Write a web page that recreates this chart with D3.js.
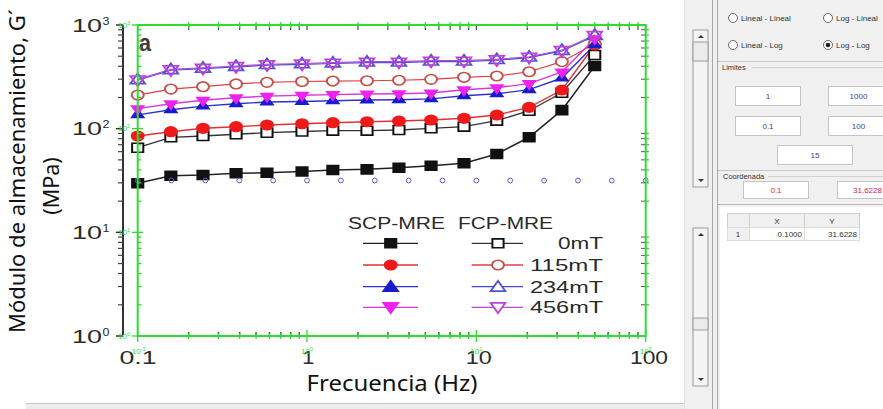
<!DOCTYPE html>
<html><head><meta charset="utf-8">
<script src="https://cdn.jsdelivr.net/npm/d3@7"></script>
<style>body{margin:0;background:#fff;overflow:hidden}svg{display:block}</style>
</head><body>
<svg id="c" width="883" height="409"></svg>
<script>
// ---------- data ----------
const freq   = [0.1, 0.157, 0.243, 0.381, 0.58, 0.934, 1.42, 2.26, 3.49, 5.4, 8.45, 13.2, 20.5, 32, 50];
const scp0   = [29.7, 35.2, 35.7, 37.1, 37.6, 38.6, 39.9, 40.5, 42.0, 43.9, 46.3, 57.0, 82.6, 151, 402];
const fcp0   = [65.5, 82.6, 85.0, 88.3, 91.4, 93.9, 95.6, 95.6, 97.1, 100.8, 104.5, 119.4, 149, 222, 514];
const scp115 = [85.0, 93.5, 100.8, 104.5, 108.4, 111.6, 114.2, 116.7, 118.6, 121.3, 125.9, 135.5, 160.7, 236, 641];
const fcp115 = [211, 241, 254, 270, 280, 285, 288, 290, 293, 299, 313, 322, 354, 443, 660];
const scp234 = [136, 152, 165, 174, 181, 183, 186, 189, 190, 194, 208, 217, 238, 308, 645];
const scp456 = [156, 174, 188, 199, 206, 210, 213, 216, 217, 221, 237, 248, 272, 352, 738];
const fcp234 = [293, 366, 379, 394, 410, 417, 425, 434, 434, 444, 444, 458, 484, 562, 784];
const fcp456 = [299, 374, 387, 402, 418, 425, 433, 443, 443, 453, 453, 467, 494, 574, 800];
const digitFreq = [0.1, 0.158, 0.251, 0.398, 0.631, 1, 1.585, 2.512, 3.981, 6.31, 10, 15.85, 25.12, 39.81, 63.1, 100];
const digitVal  = [31.6228, 31.6228, 31.6228, 31.6228, 31.6228, 31.6228, 31.6228, 31.6228, 31.6228, 31.6228, 31.6228, 31.6228, 31.6228, 31.6228, 31.6228, 31.6228];
const fieldLabels = ["0mT", "115mT", "234mT", "456mT"];
const groupLabels = ["SCP-MRE", "FCP-MRE"];
const xTickValues = [0.1, 1, 10, 100];
const xTickLabels = ["0.1", "1", "10", "100"];
const yTickValues = [1, 10, 100, 1000];
const yTickExps   = ["0", "1", "2", "3"];
const xTitle = "Frecuencia (Hz)";
const yTitle1 = "Módulo de almacenamiento, G´";
const yTitle2 = "(MPa)";
const panelLabel = "a";

// ---------- scales ----------
const svg = d3.select("#c");
const x = d3.scaleLog().domain([0.1, 100]).range([137.7, 645.7]);
const y = d3.scaleLog().domain([1, 1000]).range([336, 25]);
const xLab = d3.scaleLog().domain([0.1, 100]).range([138, 649]);

const minorX = [], minorY = [];
[0.1, 1, 10].forEach(d => { for (let k = 2; k <= 9; k++) minorX.push(d * k); });
[1, 10, 100].forEach(d => { for (let k = 2; k <= 9; k++) minorY.push(d * k); });

const green = "#2fdc2f";
const ink = "#2a2a2a";

// ---------- original figure frame (black) ----------
const orig = svg.append("g");
orig.append("line").attr("x1", 123).attr("x2", 123).attr("y1", 25).attr("y2", 335)
  .attr("stroke", "#333").attr("stroke-width", 2);
orig.selectAll(".bly").data(minorY).join("line")
  .attr("x1", 118).attr("x2", 123).attr("y1", d => y(d)).attr("y2", d => y(d))
  .attr("stroke", "#444").attr("stroke-width", 1.2);
orig.selectAll(".blyM").data(yTickValues).join("line")
  .attr("x1", 116).attr("x2", 123).attr("y1", d => y(d)).attr("y2", d => y(d))
  .attr("stroke", "#333").attr("stroke-width", 1.5);
orig.selectAll(".btt").data(minorX.concat(xTickValues)).join("line")
  .attr("x1", d => x(d)).attr("x2", d => x(d)).attr("y1", 26).attr("y2", 30)
  .attr("stroke", "#444").attr("stroke-width", 1.2);
orig.selectAll(".btb").data(minorX).join("line")
  .attr("x1", d => x(d)).attr("x2", d => x(d)).attr("y1", 332).attr("y2", 336)
  .attr("stroke", "#444").attr("stroke-width", 1.5);
orig.selectAll(".btr").data(minorY).join("line")
  .attr("x1", 641).attr("x2", 645).attr("y1", d => y(d)).attr("y2", d => y(d))
  .attr("stroke", "#555").attr("stroke-width", 1);

const yl = orig.selectAll(".ylab").data(yTickValues).join("g");
yl.append("text").attr("x", 72).attr("y", d => y(d) + 6.5)
  .attr("font-family", "Liberation Sans, Arial, sans-serif").attr("font-size", 18)
  .attr("textLength", 30).attr("lengthAdjust", "spacingAndGlyphs")
  .attr("fill", ink).text("10");
yl.append("text").attr("x", 102.5).attr("y", d => y(d) - 0.5)
  .attr("font-family", "Liberation Sans, Arial, sans-serif").attr("font-size", 11)
  .attr("textLength", 7).attr("lengthAdjust", "spacingAndGlyphs")
  .attr("fill", ink).text((d, i) => yTickExps[i]);

orig.selectAll(".xlab").data(xTickValues).join("text")
  .attr("x", d => xLab(d)).attr("y", 363.5).attr("text-anchor", "middle")
  .attr("font-family", "Liberation Sans, Arial, sans-serif").attr("font-size", 18)
  .attr("textLength", (d, i) => [37, 12, 26, 38][i]).attr("lengthAdjust", "spacingAndGlyphs")
  .attr("fill", ink).text((d, i) => xTickLabels[i]);

svg.append("text").attr("x", 139).attr("y", 51)
  .attr("font-family", "Liberation Sans, Arial, sans-serif").attr("font-size", 23).attr("font-weight", "bold")
  .attr("textLength", 12).attr("lengthAdjust", "spacingAndGlyphs")
  .attr("fill", "#3a3a3a").text(panelLabel);

// ---------- series ----------
const series = [
  {v: scp0,   c: "#111111", line: "#222", sym: d3.symbolSquare,   size: 80, fill: "#111111", rot: 0, lw: 1.5},
  {v: fcp0,   c: "#111111", line: "#333", sym: d3.symbolSquare,   size: 80, fill: "#ffffff", rot: 0, lw: 1.3},
  {v: scp115, c: "#ee1a1a", line: "#e53030", sym: d3.symbolCircle, size: 72, fill: "#ee1a1a", rot: 0, lw: 1.4},
  {v: fcp115, c: "#c8504a", line: "#e04040", sym: d3.symbolCircle, size: 72, fill: "#ffffff", rot: 0, lw: 1.2},
  {v: scp234, c: "#1a1ad0", line: "#3030d0", sym: d3.symbolTriangle, size: 38, fill: "#1a1ad0", rot: 0, lw: 1.4},
  {v: fcp234, c: "#5050d8", line: "#4848d0", sym: d3.symbolTriangle, size: 60, fill: "none", rot: 0, lw: 1.2},
  {v: scp456, c: "#ee22ee", line: "#d838d8", sym: d3.symbolTriangle, size: 38, fill: "#ee22ee", rot: 180, lw: 1.4},
  {v: fcp456, c: "#c040d8", line: "#b848d8", sym: d3.symbolTriangle, size: 60, fill: "none", rot: 180, lw: 1.2}
];
const lineGen = d3.line().x((d, i) => x(freq[i])).y(d => y(d));
const plot = svg.append("g");
series.forEach(s => {
  plot.append("path").attr("d", lineGen(s.v)).attr("fill", "none")
    .attr("stroke", s.line).attr("stroke-width", s.lw);
});
series.forEach(s => {
  plot.append("g").selectAll("path").data(s.v).join("path")
    .attr("d", d3.symbol(s.sym, s.size)())
    .attr("transform", (d, i) => `translate(${x(freq[i])},${y(d)}) scale(1.25,1) rotate(${s.rot})`)
    .attr("fill", s.fill).attr("stroke", s.c).attr("stroke-width", 1.6);
});

svg.append("g").selectAll("circle").data(digitVal).join("circle")
  .attr("cx", (d, i) => x(digitFreq[i])).attr("cy", d => y(d)).attr("r", 2.4)
  .attr("fill", "none").attr("stroke", "#5a5ae0").attr("stroke-width", 1);

// ---------- legend ----------
const leg = svg.append("g").attr("font-family", "Liberation Sans, Arial, sans-serif").attr("fill", ink);
leg.append("text").attr("x", 348).attr("y", 228.5).attr("font-size", 16)
  .attr("textLength", 97).attr("lengthAdjust", "spacingAndGlyphs").attr("fill", ink).text(groupLabels[0]);
leg.append("text").attr("x", 458).attr("y", 228.5).attr("font-size", 16)
  .attr("textLength", 95).attr("lengthAdjust", "spacingAndGlyphs").attr("fill", ink).text(groupLabels[1]);
const rowY = [243.3, 265, 286.7, 307.3];
fieldLabels.forEach((lab, r) => {
  [0, 1].forEach(k => {
    const s = series[r * 2 + k];
    const x1 = k ? 471.7 : 363, x2 = k ? 523 : 418, mx = k ? 498 : 390.7;
    const sz = s.sym === d3.symbolTriangle ? 60 : s.size;
    const off = s.sym === d3.symbolTriangle ? (s.rot ? -1 : 1) : 0;
    leg.append("line").attr("x1", x1).attr("x2", x2).attr("y1", rowY[r]).attr("y2", rowY[r])
      .attr("stroke", s.line).attr("stroke-width", 1.3);
    leg.append("path").attr("d", d3.symbol(s.sym, sz)())
      .attr("transform", `translate(${mx},${rowY[r] + off}) scale(1.25,1) rotate(${s.rot})`)
      .attr("fill", s.fill === "none" ? "#ffffff" : s.fill).attr("stroke", s.c).attr("stroke-width", 1.6);
  });
  leg.append("text").attr("x", 603).attr("y", rowY[r] + 5.8).attr("font-size", 16)
    .attr("text-anchor", "end").attr("fill", ink).text(lab)
    .attr("textLength", lab.length === 3 ? 45 : 73).attr("lengthAdjust", "spacingAndGlyphs");
});

// ---------- digitizer green overlay ----------
const g2 = svg.append("g");
g2.append("rect").attr("x", 137.7).attr("y", 25).attr("width", 508).attr("height", 311)
  .attr("fill", "none").attr("stroke", green).attr("stroke-width", 2);
g2.selectAll(".gly").data(minorY).join("line")
  .attr("x1", 137.7).attr("x2", 141.5).attr("y1", d => y(d)).attr("y2", d => y(d))
  .attr("stroke", green).attr("stroke-width", 1.3);
g2.selectAll(".glyM").data(yTickValues).join("line")
  .attr("x1", 132).attr("x2", 143).attr("y1", d => y(d)).attr("y2", d => y(d))
  .attr("stroke", green).attr("stroke-width", 1.3);
g2.selectAll(".gry").data(minorY).join("line")
  .attr("x1", 645.7).attr("x2", 649).attr("y1", d => y(d)).attr("y2", d => y(d))
  .attr("stroke", green).attr("stroke-width", 1.3);
g2.selectAll(".gbx").data(minorX).join("line")
  .attr("x1", d => x(d)).attr("x2", d => x(d)).attr("y1", 333).attr("y2", 339)
  .attr("stroke", green).attr("stroke-width", 1.3);
g2.selectAll(".gbxM").data(xTickValues).join("line")
  .attr("x1", d => x(d)).attr("x2", d => x(d)).attr("y1", 330).attr("y2", 342)
  .attr("stroke", green).attr("stroke-width", 1.3);
g2.selectAll(".gtx").data(minorX).join("line")
  .attr("x1", d => x(d)).attr("x2", d => x(d)).attr("y1", 22).attr("y2", 28)
  .attr("stroke", green).attr("stroke-width", 1.3);
const gyl = g2.selectAll(".gyl").data(yTickValues).join("text")
  .attr("x", 118).attr("y", d => y(d) + 2.5)
  .attr("font-family", "Liberation Sans, Arial, sans-serif").attr("font-size", 8).attr("fill", green);
gyl.append("tspan").text("10");
gyl.append("tspan").attr("dy", -3).attr("font-size", 5.5).text((d, i) => yTickExps[i]);
const gxl = g2.selectAll(".gxl").data(xTickValues).join("text")
  .attr("x", d => x(d) - 6).attr("y", 354)
  .attr("font-family", "Liberation Sans, Arial, sans-serif").attr("font-size", 8).attr("fill", green);
gxl.append("tspan").text("10");
gxl.append("tspan").attr("dy", -3).attr("font-size", 5.5).text((d, i) => ["-1", "0", "1", "2"][i]);

// ---------- axis titles ----------
svg.append("text").attr("x", xLab(3.1)).attr("y", 391).attr("text-anchor", "middle")
  .attr("font-family", "Noto Sans, Open Sans, sans-serif").attr("font-size", 21.5)
  .attr("textLength", 171).attr("lengthAdjust", "spacingAndGlyphs")
  .attr("fill", "#111").text(xTitle);
svg.append("text").attr("transform", "translate(25,171) rotate(-90)").attr("text-anchor", "middle")
  .attr("font-family", "Noto Sans, Open Sans, sans-serif").attr("font-size", 21.5)
  .attr("textLength", 324).attr("lengthAdjust", "spacingAndGlyphs")
  .attr("fill", "#111").text(yTitle1);
svg.append("text").attr("transform", "translate(59,186) rotate(-90)").attr("text-anchor", "middle")
  .attr("font-family", "Noto Sans, Open Sans, sans-serif").attr("font-size", 21.5)
  .attr("fill", "#111").text(yTitle2);

svg.append("rect").attr("x", 26).attr("y", 403).attr("width", 660).attr("height", 6).attr("fill", "#ececec");
svg.append("line").attr("x1", 26).attr("x2", 686).attr("y1", 403.5).attr("y2", 403.5).attr("stroke", "#c8c8c8");

// ---------- right UI panel ----------
const ui = svg.append("g").attr("font-family", "Liberation Sans, Arial, sans-serif").attr("font-size", 8);
ui.append("rect").attr("x", 684).attr("y", 0).attr("width", 199).attr("height", 409).attr("fill", "#f0f0f0");
ui.append("line").attr("x1", 684.5).attr("x2", 684.5).attr("y1", 0).attr("y2", 409).attr("stroke", "#e0e0e0");
function scrollbar(y0, y1, t0, t1) {
  ui.append("rect").attr("x", 693).attr("y", y0).attr("width", 15).attr("height", y1 - y0)
    .attr("fill", "#f4f4f4").attr("stroke", "#9a9a9a").attr("stroke-width", 1);
  ui.append("rect").attr("x", 693).attr("y", t0).attr("width", 15).attr("height", t1 - t0)
    .attr("fill", "#ebebeb").attr("stroke", "#9a9a9a").attr("stroke-width", 1);
  ui.append("path").attr("d", `M698,${y0 + 8}L701,${y0 + 5}L704,${y0 + 8}Z`).attr("fill", "#333");
  ui.append("path").attr("d", `M698,${y1 - 8}L701,${y1 - 5}L704,${y1 - 8}Z`).attr("fill", "#333");
}
scrollbar(30, 187, 42, 61);
scrollbar(228, 386, 318, 330);
ui.append("line").attr("x1", 712.5).attr("x2", 712.5).attr("y1", 0).attr("y2", 409).attr("stroke", "#a8a8a8");
ui.append("line").attr("x1", 717.5).attr("x2", 717.5).attr("y1", 0).attr("y2", 409).attr("stroke", "#a8a8a8");

const radios = [
  {t: "Lineal - Lineal", x: 733, y: 18, on: false},
  {t: "Log - Lineal", x: 828, y: 18, on: false},
  {t: "Lineal - Log", x: 733, y: 45, on: false},
  {t: "Log - Log", x: 828, y: 45, on: true}
];
radios.forEach(r => {
  ui.append("circle").attr("cx", r.x).attr("cy", r.y).attr("r", 4.5).attr("fill", "#fff").attr("stroke", "#666");
  if (r.on) ui.append("circle").attr("cx", r.x).attr("cy", r.y).attr("r", 2.3).attr("fill", "#222");
  ui.append("text").attr("x", r.x + 8).attr("y", r.y + 3).attr("fill", "#333").text(r.t);
});
ui.append("line").attr("x1", 718).attr("x2", 883).attr("y1", 61.5).attr("y2", 61.5).attr("stroke", "#c8c8c8");
ui.append("text").attr("x", 722).attr("y", 70).attr("fill", "#333").attr("font-size", 7.5).text("Limites");
ui.append("line").attr("x1", 752).attr("x2", 883).attr("y1", 67.5).attr("y2", 67.5).attr("stroke", "#d0d0d0");
function box(x0, y0, w, h, t, col) {
  ui.append("rect").attr("x", x0).attr("y", y0).attr("width", w).attr("height", h)
    .attr("fill", "#fff").attr("stroke", "#c4c4c4");
  ui.append("text").attr("x", x0 + w / 2).attr("y", y0 + h / 2 + 3).attr("text-anchor", "middle")
    .attr("fill", col).text(t);
}
box(735.5, 86.5, 65, 19, "1", "#3c3ca0");
box(828.5, 86.5, 60, 19, "1000", "#3c3ca0");
box(735.5, 116.5, 65, 19, "0.1", "#3c3ca0");
box(828.5, 116.5, 60, 19, "100", "#3c3ca0");
box(777.5, 145.5, 75, 19, "15", "#3c3ca0");
ui.append("line").attr("x1", 718).attr("x2", 883).attr("y1", 170.5).attr("y2", 170.5).attr("stroke", "#c8c8c8");
ui.append("text").attr("x", 723).attr("y", 179).attr("fill", "#333").attr("font-size", 7.5).text("Coordenada");
ui.append("line").attr("x1", 768).attr("x2", 883).attr("y1", 176.5).attr("y2", 176.5).attr("stroke", "#d0d0d0");
box(743.5, 181.5, 65, 17, "0.1", "#e0203a");
box(837.5, 181.5, 60, 17, "31.6228", "#e0203a");
ui.append("line").attr("x1", 718).attr("x2", 883).attr("y1", 204.5).attr("y2", 204.5).attr("stroke", "#b8b8b8");
ui.append("rect").attr("x", 720).attr("y", 207).attr("width", 163).attr("height", 202).attr("fill", "#fff");
const cols = [727, 749, 804, 859];
for (let c = 0; c < 3; c++) {
  ui.append("rect").attr("x", cols[c] + 0.5).attr("y", 213.5).attr("width", cols[c + 1] - cols[c]).attr("height", 14)
    .attr("fill", "#f0f0f0").attr("stroke", "#cfcfcf");
  ui.append("rect").attr("x", cols[c] + 0.5).attr("y", 227.5).attr("width", cols[c + 1] - cols[c]).attr("height", 13)
    .attr("fill", c === 0 ? "#f0f0f0" : "#fff").attr("stroke", "#dcdcdc");
}
ui.append("text").attr("x", 777).attr("y", 224).attr("text-anchor", "middle").attr("fill", "#333").text("X");
ui.append("text").attr("x", 832).attr("y", 224).attr("text-anchor", "middle").attr("fill", "#333").text("Y");
ui.append("text").attr("x", 738).attr("y", 237).attr("text-anchor", "middle").attr("fill", "#333").text("1");
ui.append("text").attr("x", 802).attr("y", 237).attr("text-anchor", "end").attr("fill", "#333").text("0.1000");
ui.append("text").attr("x", 857).attr("y", 237).attr("text-anchor", "end").attr("fill", "#333").text("31.6228");
</script>
</body></html>
